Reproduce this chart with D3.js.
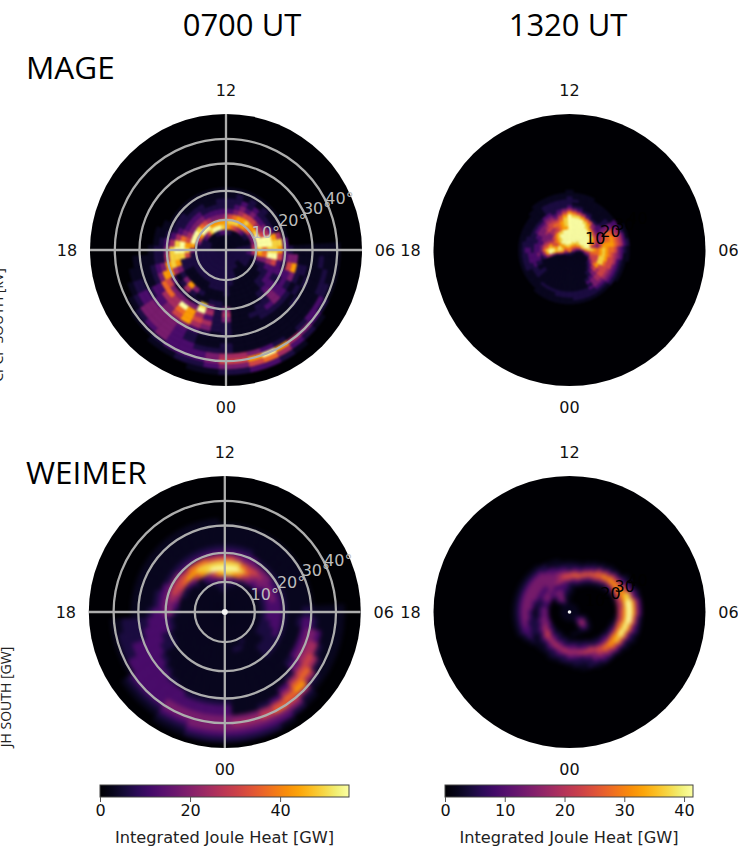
<!DOCTYPE html>
<html><head><meta charset="utf-8">
<script src="https://cdn.jsdelivr.net/npm/d3@7"></script>
<style>html,body{margin:0;background:#fff}svg{display:block}
text{font-family:"DejaVu Sans",sans-serif}</style></head><body>
<svg id="fig" width="738" height="850"></svg>
<script>
// Columns: 30-minute MLT sectors clockwise from 12 MLT. Rows: rings outward from the pole.
// Colour level: . = none, "," = half a level, 1..9 = levels of the colour bar.
const mage0700 = [
",,,,,,,,,,,, 111111111111 111111111111 ,,,,,,,,,,,,",
",,,,,,,,,,,, 111111111111 111111111111 ,,,,,,,,,,,,",
",,,,,,,,,,,1 111111111111 111111111111 1,,,,,,,,,,,",
"211,,,,,,,,1 111111,,1111 111111111111 1111,,,,1122",
"776543211,,1 121111,,,,11 111111111111 111123589998",
"788877653334 541,,,,,,,11 111111111111 113579997777",
"456778778999 8731,,,,,,,1 111111111111 379998654333",
"223455544599 66311,,,,,,, 1111,,,,,115 875433332222",
"112323223499 8942111,,,,, 1,,,,,,,,118 996322221111",
"111212111278 8952221,,,,, ,,,,13731378 984211111,,1",
",,1,1,1,,,48 75221221,,,, ,11,,141,488 842111,,,,,,",
",,,,,,,,,,,2 22121231,,,, 31381,1,2774 321,,,,,,,,,",
"............ 135222311,,, 414933335731 11,,........",
"............ ,373123211,, 312479466321 1,,.........",
"............ ,,11,1111,,, 11457644211, ,...........",
"............ ,,1,1,,,,,,, 113475322,,, ............",
"............ ,,,1,1,,,,,, 1,1233321,,, ............",
"............ ,,,,,,,,,,,, ,,,1233321,, ............",
"............ ,1,,,,,,,,,, 1,,1233321,. ............",
"............ ,,11,,,,,,,, 111223331,.. ............",
"............ ,,,1221,1234 43222321,... ............",
"............ ,,,,12347975 532221,,.... ............",
"............ .....,124653 3211,,...... ............",
"............ .......,1221 1,,......... ............",
"............ ............ ............ ............"
];
const mage1320 = [
"666666666666 666666666666 666666666666 666666666666",
"888777666554 443321111111 111112233445 556667778888",
"999888776654 321,,,,,,,,, ,,,,,,,,2467 888777889999",
"999999888765 31,,,,,,,,,, ,,,,,,,,,257 989877999999",
"999999999988 52,,,,,,,,,, ,,,,,,,,,,37 877567889999",
"999999999999 742,,,,,,,,, ,,,,,,,,,,38 986566789999",
"999999999999 8531,,,,,,,, ,,,,,,,,,,49 987545678899",
"999999999875 865421,,,,,, ,,,,,,,,,,47 865433455677",
"999999988764 7655421,,,,, ,,,,,,,,,,24 654333445678",
"999998765543 66556421,,,, ,,,,,,,,,,12 332334556678",
"999987433445 77887531,,,, ,,,,,,,1,123 222233455568",
"988765322457 888854321,,, ,,,,,,,1,122 221233344357",
"765421123567 777655432,,, ,,,,,,,11222 111122233235",
"43211,,13667 665555431,,, ,,,,,,,11122 211111122123",
"211,,,,13677 655544332111 111111,,,111 211,,,,,1111",
"1,,,,,,13566 544333221111 111,,,,,,111 11,,,,,,1111",
"11,,,,,,2455 332222111111 ,,,,,,,,,,,, ,,,,,,,,1111",
"1,,,,,,,2344 221111,,,,,, ,,,,,,...... ......,,,,,,",
",,,,.....122 1,,,,....... ............ .......,,,,,",
",........,,1 ,,.......... ............ ............",
"............ ............ ............ ............",
"............ ............ ............ ............",
"............ ............ ............ ............",
"............ ............ ............ ............",
"............ ............ ............ ............"
];
const weimer0700 = [
",,,,,,,,,,,, ,,,,,,,,,,,, ,,,,,,,,,,,, ,,,,,,,,,,,,",
",,,,,,,,,,,, ,,,,,,,,,,,, ,,,,,,,,,,,, ,,,,,,,,,,,,",
",,,,,,,,,,,, ,,,,,,,,,,,, ,,,,,,,,,,,, ,,,,,,,,,,,,",
",,,,,,,,,,,, ,,,,,,,,,,,, ,,,,,,,,,,,, ,,,,,,,,,,,,",
"1,,,,,,,,,,, ,,,,,,,,,,,, ,,,,,,,,,,,, ,,,,,,,,,,,1",
"111,,,,,,,,, ,,,,,,,,,,,, ,,,,,,,,,,,, ,,,,,,,,,,11",
"332211,,,,,, ,,,,,,,,1,,, ,,,,,,,,,,,, ,,,,,,,,1223",
"887643221111 11111,,,,11, ,,,,,,,,,,,, ,,,,,,1,2357",
"999864332222 22111,,,,,,, ,,,,,,,,,,,, ,,,112357899",
"888655433332 2221111,,,,, ,,,,,,,,,,,, 123456778888",
"554333332222 2222111,,,,, ,,,,,,,,,,11 334555566655",
"222221111111 1111111,,,,, ,,,,,,,,1122 333333222222",
"1111,,,,,,,, ,,,,,,,,,,,, ,,,,,,,,1122 222211111111",
",,,,,,,,,,,, ,,,,,,,,,,,, ,,,,,,,,1222 211,,,,,,,,,",
",,,,,,,,,,,, ,1,,,,,,,,,, ,,,,,,,12222 1,,,,,,,,,,,",
",,,,,,,,,,,, 122221,,,,,, ,,,,,,122221 ,,,,,,,,,,,,",
",,,,,,,,,,,, 123332,,,,,, ,,,,,1222211 ,,,,,,,,,,,,",
"............ ,134431,,,,, 111122222211 ,,,,,,,,,,,,",
"............ ,,245542,,,, 222222222211 ............",
"............ ,,,1466421,, 222222222111 ............",
"............ ,,,,14765433 33333222211, ............",
"............ ,,,,,1456544 33333222,,,, ............",
"............ ,,,,,,133333 33322111.... ............",
"............ ......,12222 22211,,,.... ............",
"............ ........,111 111,,....... ............"
];
const weimer1320 = [
",,,,,,,,,,,, ,,,,,,,,,,,, ,,,,,,,,,,,, ,,,,,,,,,,,,",
",,,,,,,,,,,, ,,,,,,,,,,,, ,,,,,,,,,,,, ,,,,,,,,,,,,",
",,,,,,,,,,,, ,,,,,,,,,,,, ,,,,,,,,,,,, ,,,,,,,,,,,,",
"............ ...,1221,... ............ ......,112,,",
",........... ..,12332,... ............ .....,12331,",
",........... ..,13443,... ............ .....,23331,",
",,.......... ...,1332,... ............ ......123321",
"1,.......... ....,121,,,, ...,,,112222 221222233321",
"1,.......... .....,,..... .,,111223333 332233222222",
"111,........ ..........., ,11122444332 221233332222",
"3221,....... .........,11 112234543221 111122233443",
"54421,...... ........1112 22344442211, .,1222233345",
"566421,..... ......,11223 344432211111 122333333345",
"3446431,.... ....,1113344 443221 1,1112 233333333333",
"12246531,... ..,112235543 32211,,,1223 333333333222",
"1112465321,. .,1233454322 2111,,,12233 333333332211",
",,,125765544 445566653211 11,,...,1222 222222221,,,",
"...,13577654 556777643111 ,.......,111 111111111,,.",
"....,1356777 7789864321,, .........,,, ,,,,,,,,....",
".....,134689 9998643211,. ............ ............",
"......,12489 99753211,... ............ ............",
"........1247 76421,...... ............ ............",
"........,124 4321,....... ............ ............",
"..........12 211,........ ............ ............",
"............ ............ ............ ............"
];
const colLabels = ["0700 UT", "1320 UT"];
const rowLabels = ["MAGE", "WEIMER"];
const hourLabels = ["12", "06", "00", "18"];
const colatitudes = [10, 20, 30, 40];
const ticksLeft = [0, 20, 40];
const ticksRight = [0, 10, 20, 30, 40];
const vmaxLeft = 55.3;
const vmaxRight = 41.5;
const barLabel = "Integrated Joule Heat [GW]";

const svg = d3.select("#fig");
const defs = svg.append("defs");
const DISC = 136, SPHERE = 173;
const levels = row => row.replace(/ /g, "").split("").map(c => c === "." ? 0 : c === "," ? 0.5 : +c);

function blur(id, sd) {
  defs.append("filter").attr("id", id).attr("x", "-10%").attr("y", "-10%").attr("width", "120%").attr("height", "120%")
    .attr("color-interpolation-filters", "sRGB")
    .append("feGaussianBlur").attr("stdDeviation", sd);
}
blur("b1", 1.2); blur("b2", 0.9); blur("b3", 2.2); blur("b4", 1.9);

function panel(opt) {
  const g = svg.append("g").attr("transform", `translate(${opt.cx},${opt.cy})`);
  const color = d3.scaleSequential(d3.interpolateInferno).domain([0, opt.vmax]);
  const toGW = d3.scaleLinear().domain([0, 9]).range([0, opt.vmax]);
  const radius = d3.scaleLinear().domain([0, opt.rows.length]).range([0, opt.rMax]);
  const angle = d3.scaleLinear().domain([0, 48]).range([0, 2 * Math.PI]);
  const arc = d3.arc();
  const cid = "clip" + opt.blur;
  defs.append("clipPath").attr("id", cid).append("circle").attr("r", DISC);
  const disc = g.append("g").attr("clip-path", `url(#${cid})`);
  disc.append("circle").attr("r", DISC + 1).attr("fill", color(0));
  const cells = [];
  opt.rows.forEach((row, i) => levels(row).forEach((v, s) => { if (v > 0) cells.push({ i, s, v: toGW(v) }); }));
  disc.append("g").attr("filter", `url(#${opt.blur})`).selectAll("path").data(cells).join("path")
    .attr("d", d => arc({ innerRadius: radius(d.i), outerRadius: radius(d.i + 1),
      startAngle: angle(d.s - 0.5), endAngle: angle(d.s + 0.5) }))
    .attr("fill", d => color(d.v)).attr("stroke", d => color(d.v)).attr("stroke-width", 0.6);

  const rOf = d3.scaleLinear().domain([0, 1]).range([0, SPHERE]);
  const sinC = c => Math.sin(c * Math.PI / 180);
  const bearing = 65 * Math.PI / 180;
  if (opt.grid) {
    const grid = disc.append("g").attr("fill", "none").attr("stroke", "#adadad").attr("stroke-width", 2.3);
    grid.selectAll("circle").data(colatitudes).join("circle").attr("r", c => rOf(sinC(c)));
    grid.append("line").attr("x1", -DISC).attr("x2", DISC);
    grid.append("line").attr("y1", -DISC).attr("y2", DISC);
    g.selectAll("text.col").data(colatitudes).join("text").attr("class", "col")
      .attr("x", c => (rOf(sinC(c)) + 14) * Math.sin(bearing))
      .attr("y", c => -(rOf(sinC(c)) + 14) * Math.cos(bearing) + 1).attr("dy", "0.36em")
      .attr("text-anchor", "middle").attr("font-size", 16).attr("fill", "#bdbdbd").text(c => c + "°");
  } else {
    const small = d3.scaleLinear().domain([0, 1]).range([0, 100]);
    g.selectAll("text.col").data(colatitudes).join("text").attr("class", "col")
      .attr("x", c => (small(sinC(c)) + 11) * Math.sin(bearing))
      .attr("y", c => -(small(sinC(c)) + 11) * Math.cos(bearing)).attr("dy", "0.36em")
      .attr("text-anchor", "middle").attr("font-size", 16)
      .attr("fill", "#000").text(c => c);
  }
  if (opt.dot) g.append("circle").attr("r", opt.dot).attr("fill", "#f4f4f4");
  const pos = [[0, -160], [159, 0], [0, 157.5], [-159, 0]];
  g.selectAll("text.h").data(hourLabels).join("text").attr("class", "h")
    .attr("x", (d, i) => pos[i][0]).attr("y", (d, i) => pos[i][1]).attr("dy", "0.36em")
    .attr("text-anchor", "middle").attr("font-size", 16).attr("fill", "#111").text(d => d);
}

panel({ cx: 226, cy: 250, rows: mage0700, rMax: 130, vmax: vmaxLeft, grid: true, blur: "b1" });
panel({ cx: 569.5, cy: 250, rows: mage1320, rMax: 75, vmax: vmaxRight, grid: false, blur: "b2" });
panel({ cx: 224.8, cy: 612, rows: weimer0700, rMax: 130, vmax: vmaxLeft, grid: true, blur: "b3", dot: 3 });
panel({ cx: 569.5, cy: 612, rows: weimer1320, rMax: 75, vmax: vmaxRight, grid: false, blur: "b4", dot: 1.8 });

function colorbar(x0, x1, vmax, ticks, gid) {
  const x = d3.scaleLinear().domain([0, vmax]).range([x0, x1]);
  const grad = defs.append("linearGradient").attr("id", gid);
  d3.range(0, 1.001, 0.05).forEach(t => grad.append("stop").attr("offset", t).attr("stop-color", d3.interpolateInferno(t)));
  svg.append("rect").attr("x", x0).attr("y", 785).attr("width", x1 - x0).attr("height", 12)
    .attr("fill", `url(#${gid})`).attr("stroke", "#444").attr("stroke-width", 1);
  const ax = svg.append("g").attr("transform", "translate(0,797)")
    .call(d3.axisBottom(x).tickValues(ticks).tickSize(5).tickPadding(3).tickSizeOuter(0));
  ax.select(".domain").remove();
  ax.selectAll("line").attr("stroke", "#555");
  ax.selectAll("text").attr("font-size", 16).attr("font-family", '"DejaVu Sans"').attr("fill", "#111");
  svg.append("text").attr("x", (x0 + x1) / 2).attr("y", 843).attr("text-anchor", "middle")
    .attr("font-size", 16.2).attr("fill", "#222").text(barLabel);
}
colorbar(100, 349, vmaxLeft, ticksLeft, "gl");
colorbar(445, 693, vmaxRight, ticksRight, "gr");

const big = '"Open Sans","Noto Sans",sans-serif';
svg.selectAll("text.ct").data(colLabels).join("text").attr("class", "ct")
  .attr("x", (d, i) => i ? 568 : 242).attr("y", 36).attr("text-anchor", "middle")
  .style("font-family", big).attr("font-size", 31).attr("fill", "#000").text(d => d);
svg.selectAll("text.rt").data(rowLabels).join("text").attr("class", "rt")
  .attr("x", 26).attr("y", (d, i) => i ? 484 : 79)
  .style("font-family", big).attr("font-size", 31.5).attr("fill", "#000").text(d => d);
// axis titles cropped by the left edge of the figure
svg.append("text").attr("transform", "translate(3,325) rotate(-90)").attr("text-anchor", "middle")
  .style("font-family", big).attr("font-size", 14).attr("fill", "#222").text("CPCP SOUTH [kV]");
svg.append("text").attr("transform", "translate(11,697) rotate(-90)").attr("text-anchor", "middle")
  .style("font-family", big).attr("font-size", 14).attr("fill", "#222").text("JH SOUTH [GW]");
</script></body></html>
